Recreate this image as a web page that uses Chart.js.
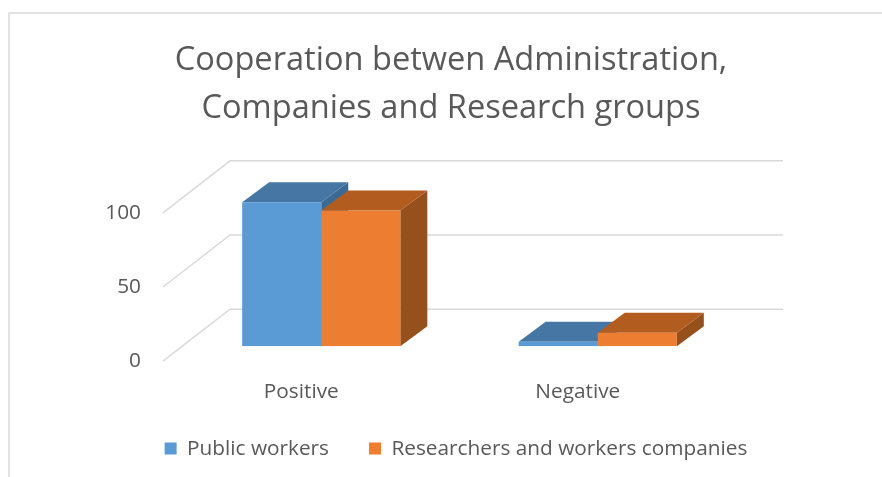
<!DOCTYPE html>
<html><head><meta charset="utf-8">
<style>html,body{margin:0;padding:0;background:#fff}#w{width:882px;height:477px;position:relative}</style>
<script src="https://cdn.jsdelivr.net/npm/chart.js@4"></script></head>
<body><div id="w"><canvas id="c"></canvas></div>
<script>
const categories = ['Positive', 'Negative'];
const publicWorkers = [97, 3];
const researchers = [91.5, 9];
const yTicks = [0, 50, 100];
const titleLines = ['Cooperation betwen Administration,', 'Companies and Research groups'];
const font = '"Open Sans"';
const sideColors = ['#3b6a94', '#96501c'];
const topColors = ['#4676a3', '#b35c1f'];
const wall = {dx: 67, dy: -52}, plane = {dx: 20, dy: -15}, depth = {dx: 27, dy: -20};

function poly(ctx, pts, color) {
  ctx.fillStyle = color; ctx.beginPath();
  pts.forEach((p, i) => i ? ctx.lineTo(p[0], p[1]) : ctx.moveTo(p[0], p[1]));
  ctx.closePath(); ctx.fill();
}
const threeD = {
  id: 'threeD',
  afterLayout(chart) {
    chart.legend.left += 5; chart.legend.right += 5;
    chart.scales.x.bottom += 25;
  },
  beforeDatasetsDraw(chart) {
    const {ctx, chartArea: a, scales: {y}} = chart;
    ctx.save();
    ctx.strokeStyle = '#d9d9d9'; ctx.lineWidth = 1.5;
    yTicks.forEach(v => {
      const py = y.getPixelForValue(v);
      ctx.beginPath();
      ctx.moveTo(a.left, py);
      ctx.lineTo(a.left + wall.dx, py + wall.dy);
      ctx.lineTo(a.right + wall.dx, py + wall.dy);
      ctx.stroke();
    });
    ctx.translate(plane.dx, plane.dy);
    chart.data.datasets.forEach((d, i) => {
      chart.getDatasetMeta(i).data.forEach(b => {
        const l = b.x - b.width / 2, r = b.x + b.width / 2, t = b.y, bt = b.base;
        poly(ctx, [[r, t], [r + depth.dx, t + depth.dy], [r + depth.dx, bt + depth.dy], [r, bt]], sideColors[i]);
        poly(ctx, [[l, t], [l + depth.dx, t + depth.dy], [r + depth.dx, t + depth.dy], [r, t]], topColors[i]);
      });
    });
    ctx.restore();
  },
  beforeDatasetDraw(chart) { chart.ctx.save(); chart.ctx.translate(plane.dx, plane.dy); },
  afterDatasetDraw(chart) { chart.ctx.restore(); },
  beforeDraw(chart) {
    const {ctx} = chart;
    ctx.save(); ctx.strokeStyle = '#d9d9d9'; ctx.lineWidth = 1.5;
    ctx.beginPath(); ctx.moveTo(9, 477); ctx.lineTo(9, 13); ctx.lineTo(882, 13); ctx.stroke();
    ctx.restore();
  }
};
new Chart(document.getElementById('c'), {
  type: 'bar',
  data: {labels: categories, datasets: [
    {label: 'Public workers', data: publicWorkers, backgroundColor: '#5b9bd5'},
    {label: 'Researchers and workers companies', data: researchers, backgroundColor: '#ed7d31'}
  ]},
  options: {
    responsive: true, maintainAspectRatio: false, animation: false,
    layout: {padding: {left: 20, right: 0, top: 0, bottom: 8}},
    datasets: {bar: {barPercentage: 1, categoryPercentage: 0.572}},
    scales: {
      x: {grid: {display: false}, border: {display: false}, afterFit(s) { s.height = 37; },
        ticks: {color: '#595959', font: {family: font, size: 20.8}, padding: 10}},
      y: {min: 0, max: 100, afterFit(s) { s.width = 143; },
        grid: {display: false}, border: {display: false},
        ticks: {stepSize: 50, color: '#595959', font: {family: font, size: 20.8}, padding: 14}},
      pad: {position: 'right', min: 0, max: 100, afterFit(s) { s.width = 166; },
        grid: {display: false}, border: {display: false}, ticks: {display: false}}
    },
    plugins: {
      title: {display: true, text: titleLines, color: '#595959',
        font: {family: font, size: 32.6, weight: 'normal', lineHeight: 1.47}, padding: {top: 37, bottom: 80}},
      legend: {position: 'bottom', labels: {color: '#595959', boxWidth: 12, boxHeight: 12, font: {family: font, size: 20.8}, padding: 40}},
      tooltip: {enabled: false}
    }
  },
  plugins: [threeD]
});
</script></body></html>
